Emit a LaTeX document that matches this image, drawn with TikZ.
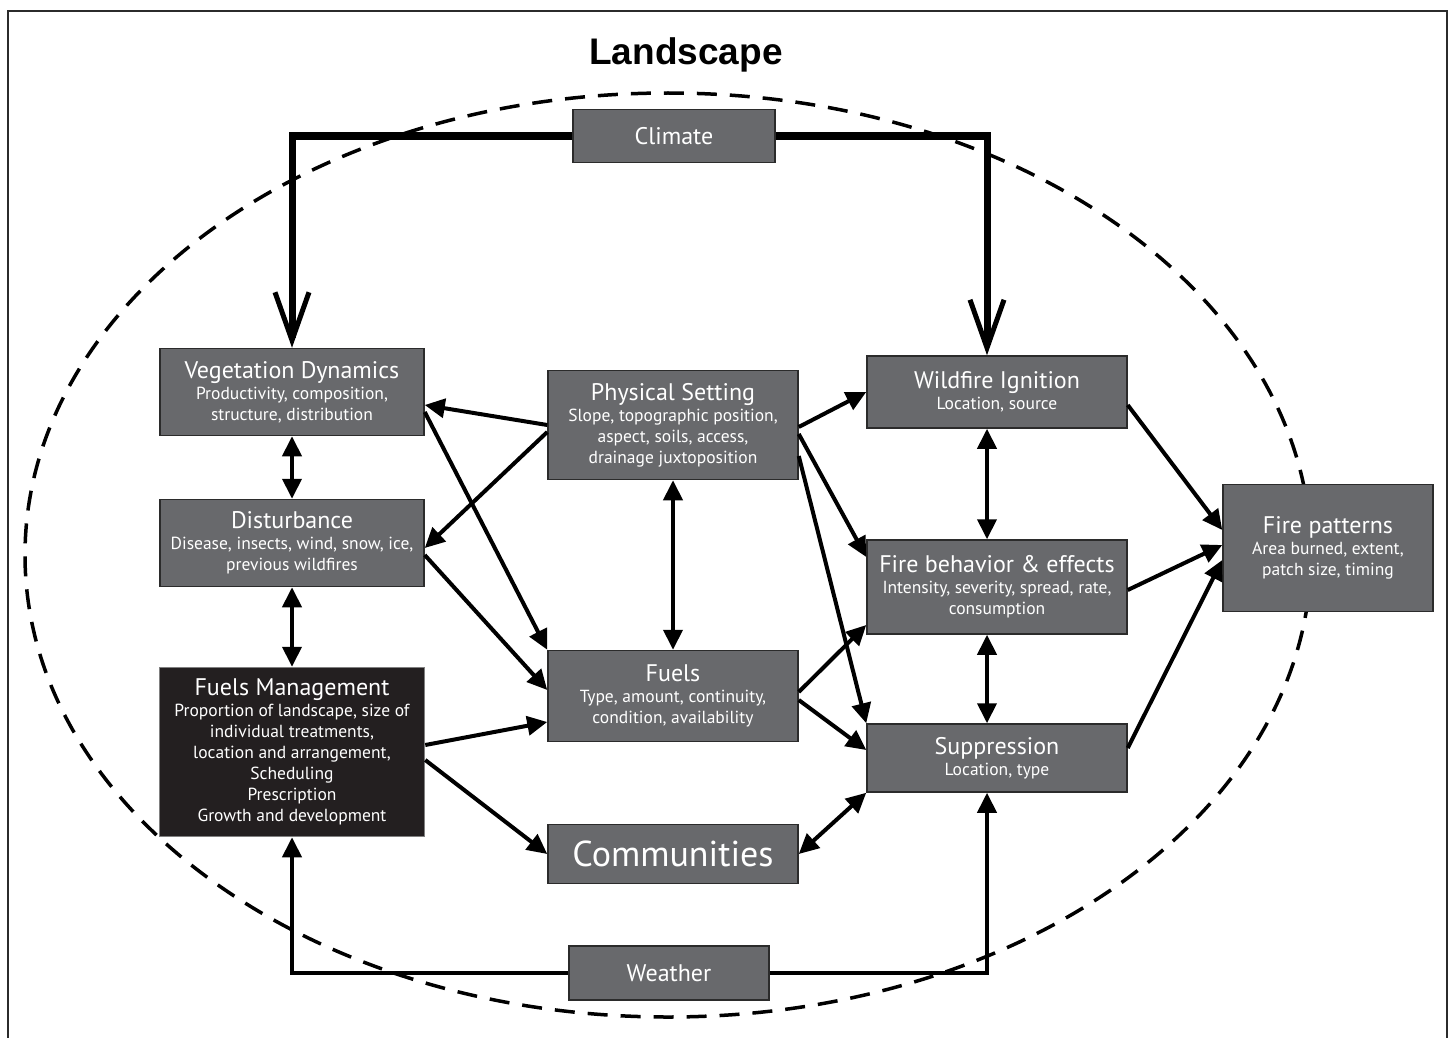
\documentclass[tikz,border=0pt]{standalone}
\usepackage{fontspec}
\setmainfont{PT Sans}
\newfontfamily\headfont{Liberation Sans}
\usetikzlibrary{arrows.meta}

\definecolor{boxgray}{HTML}{68696C}
\definecolor{boxedge}{HTML}{2B2B2B}
\definecolor{mgmtblack}{HTML}{231F20}

\begin{document}
\begin{tikzpicture}[x=1pt, y=-1pt, every node/.style={align=center, inner sep=0pt}]
	\tikzstyle{box}=[draw=boxedge, fill=boxgray, text=white, line width=1.5pt,
		font=\fontsize{17.5}{21}\selectfont]
	\tikzstyle{arr}=[line width=4pt, -{Triangle[length=20pt,width=19pt]}]
	\tikzstyle{dbl}=[line width=4pt, {Triangle[length=20pt,width=19pt]}-{Triangle[length=20pt,width=19pt]}]
	\useasboundingbox (0,0) rectangle (1450,1038);
	% frame and landscape outline
	\draw[line width=2.5pt, boxedge] (8,1038) -- (8,11) -- (1447,11) -- (1447,1038);
	\node (land) at (686,55) {\headfont\bfseries\fontsize{37}{40}\selectfont Landscape};
	\draw[line width=3.5pt, dash pattern=on 20pt off 13pt] (668,555) ellipse [x radius=643pt, y radius=462pt];
	% boxes
	\node[box, minimum width=202pt, minimum height=53pt] (clim) at (674,136) {\fontsize{24}{26}\selectfont Climate};
	\node[box, minimum width=200pt, minimum height=54pt] (wthr) at (669,973) {\fontsize{24}{26}\selectfont Weather};
	\node[box, minimum width=264pt, minimum height=87pt] (veg) at (292,392)
		{{\fontsize{24}{25}\selectfont Vegetation Dynamics}\\Productivity, composition,\\structure, distribution};
	\node[box, minimum width=264pt, minimum height=87pt] (dist) at (292,543)
		{{\fontsize{24}{25}\selectfont Disturbance}\\Disease, insects, wind, snow, ice,\\previous wildfires};
	\node[box, fill=mgmtblack, draw=gray, minimum width=265pt, minimum height=169pt] (fmgmt) at (292,752)
		{{\fontsize{24}{25}\selectfont Fuels Management}\\Proportion of landscape, size of\\individual treatments,\\location and arrangement,\\Scheduling\\Prescription\\Growth and development};
	\node[box, minimum width=250pt, minimum height=109pt] (phys) at (673,425)
		{{\fontsize{24}{25}\selectfont Physical Setting}\\Slope, topographic position,\\aspect, soils, access,\\drainage juxtoposition};
	\node[box, minimum width=250pt, minimum height=91pt] (fuels) at (673,696)
		{{\fontsize{24}{25}\selectfont Fuels}\\Type, amount, continuity,\\condition, availability};
	\node[box, minimum width=250pt, minimum height=59pt] (comm) at (673,854) {\fontsize{36}{38}\selectfont Communities};
	\node[box, minimum width=260pt, minimum height=72pt] (ign) at (997,392)
		{{\fontsize{24}{25}\selectfont Wildfire Ignition}\\Location, source};
	\node[box, minimum width=260pt, minimum height=94pt] (behav) at (997,587)
		{{\fontsize{24}{25}\selectfont Fire behavior \& effects}\\Intensity, severity, spread, rate,\\consumption};
	\node[box, minimum width=260pt, minimum height=68pt] (supp) at (997,758)
		{{\fontsize{24}{25}\selectfont Suppression}\\Location, type};
	\node[box, minimum width=210pt, minimum height=127pt] (pattern) at (1328,548)
		{{\fontsize{24}{25}\selectfont Fire patterns}\\Area burned, extent,\\patch size, timing};
	% climate and weather
	\draw[line width=7pt, -{Straight Barb[length=48pt,width=34pt,line width=5pt]}] (clim.west) -| (veg.north);
	\draw[line width=7pt, -{Straight Barb[length=48pt,width=34pt,line width=5pt]}] (clim.east) -| ([xshift=-10pt]ign.north);
	\draw[arr] (wthr.west) -| (fmgmt.south);
	\draw[arr] (wthr.east) -| ([xshift=-10pt]supp.south);
	% left column
	\draw[dbl] (veg.south) -- (dist.north);
	\draw[dbl] (dist.south) -- (fmgmt.north);
	\draw[arr] (phys.west) -- ([yshift=-13pt]veg.east);
	\draw[arr] ([yshift=-7pt]phys.west) -- ([yshift=-5pt]dist.east);
	\draw[arr] ([yshift=-20pt]veg.east) -- (fuels.north west);
	\draw[arr] ([yshift=-12pt]dist.east) -- ([yshift=6pt]fuels.west);
	\draw[arr] ([yshift=7pt]fmgmt.east) -- ([yshift=-26pt]fuels.west);
	\draw[arr] ([yshift=-8pt]fmgmt.east) -- (comm.west);
	% middle column
	\draw[dbl] (phys.south) -- (fuels.north);
	\draw[arr] ([yshift=-2pt]phys.east) -- (ign.west);
	\draw[arr] ([yshift=-9pt]phys.east) -- ([yshift=30pt]behav.west);
	\draw[arr] ([yshift=-31pt]phys.east) -- (supp.north west);
	\draw[arr] ([yshift=4pt]fuels.east) -- ([yshift=-38pt]behav.west);
	\draw[arr] ([yshift=-4pt]fuels.east) -- ([yshift=8pt]supp.west);
	\draw[dbl] (comm.east) -- (supp.south west);
	% right column
	\draw[dbl] ([xshift=-10pt]ign.south) -- ([xshift=-10pt]behav.north);
	\draw[dbl] ([xshift=-10pt]behav.south) -- ([xshift=-10pt]supp.north);
	\draw[arr] ([yshift=-13pt]ign.east) -- ([yshift=18pt]pattern.west);
	\draw[arr] ([yshift=-3pt]behav.east) -- ([yshift=3pt]pattern.west);
	\draw[arr] ([yshift=10pt]supp.east) -- ([yshift=-12pt]pattern.west);
\end{tikzpicture}
\end{document}
